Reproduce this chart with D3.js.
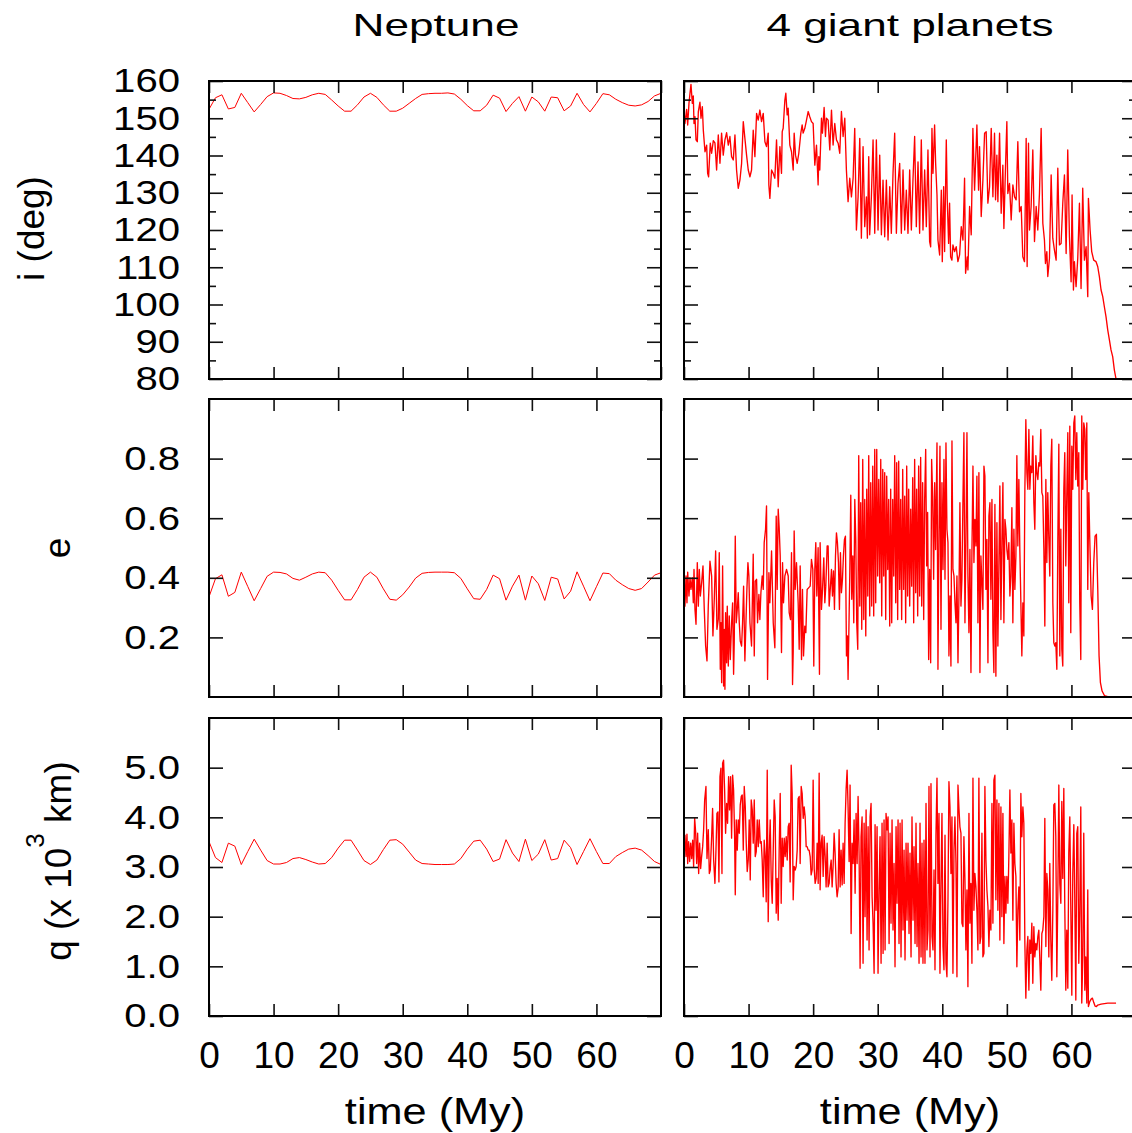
<!DOCTYPE html>
<html>
<head>
<meta charset="UTF-8">
<title>Neptune vs 4 giant planets</title>
<script src="https://cdn.jsdelivr.net/npm/d3@7"></script>
<style>
  body { margin: 0; background: #fff; }
  text { font-family: 'Liberation Sans', Arial, Helvetica, sans-serif; fill: #000; }
</style>
</head>
<body>
<div id="chart"></div>
<script>
// ---- data (time in My) ----
const neptuneTime = [0,1,2,3,4,5,6,7,8,9,10,11,12,13,14,15,16,17,18,19,20,21,22,23,24,25,26,27,28,29,30,
  31,32,33,34,35,36,37,38,39,40,41,42,43,44,45,46,47,48,49,50,51,52,53,54,55,56,57,58,59,60,61,62,63,64,65,66,67,68,69,70];
const neptuneIncl = [152.4,155.5,156.3,152.5,152.9,156.7,154.2,151.7,153.7,155.8,
  156.8,156.7,156.1,155.3,155.2,155.6,156.3,156.7,156.4,154.9,
  153.3,151.9,151.9,153.6,155.7,156.7,155.6,153.6,151.9,151.9,
  152.7,154.0,155.3,156.4,156.6,156.7,156.7,156.8,156.5,155.1,
  153.4,152.0,152.0,153.5,156.2,155.4,151.8,154.0,155.8,151.9,
  155.7,154.4,151.9,155.7,155.5,152.0,153.3,156.7,153.7,151.7,
  154.0,156.6,156.3,155.1,154.2,153.5,153.3,153.6,154.5,156.0,156.7];
const neptuneEcc = [0.336,0.397,0.410,0.338,0.351,0.419,0.371,0.323,0.364,0.405,
  0.419,0.418,0.413,0.398,0.392,0.402,0.413,0.419,0.417,0.392,
  0.358,0.326,0.326,0.361,0.402,0.419,0.402,0.363,0.328,0.325,
  0.343,0.369,0.399,0.415,0.418,0.419,0.419,0.419,0.417,0.398,
  0.363,0.330,0.328,0.361,0.409,0.397,0.325,0.372,0.409,0.325,
  0.406,0.380,0.324,0.402,0.396,0.329,0.355,0.420,0.372,0.323,
  0.370,0.416,0.414,0.392,0.377,0.364,0.358,0.364,0.386,0.409,0.417];
const neptunePeri = [3.51,3.19,3.09,3.48,3.42,3.05,3.31,3.56,3.34,3.13,
  3.06,3.06,3.09,3.17,3.19,3.15,3.10,3.06,3.07,3.19,
  3.38,3.54,3.54,3.34,3.13,3.05,3.14,3.35,3.54,3.55,
  3.46,3.30,3.14,3.07,3.06,3.05,3.05,3.05,3.06,3.17,
  3.36,3.52,3.54,3.36,3.11,3.16,3.55,3.28,3.11,3.56,
  3.13,3.26,3.55,3.14,3.17,3.54,3.39,3.05,3.31,3.57,
  3.31,3.07,3.07,3.21,3.29,3.36,3.38,3.34,3.23,3.11,3.05];

// 4 giant planets run: [time, value]
const giantIncl = [[0,152.2],[0.15,148.6],[0.41,152.4],[0.57,148.2],[0.77,154.0],[0.93,156.7],[1.08,159.1],[1.29,154.0],[1.44,156.0],[1.55,148.6],
  [1.70,150.4],[1.86,144.2],[2.06,143.7],[2.22,151.8],[2.47,154.3],[2.63,150.0],[2.84,153.1],[2.99,146.8],[3.25,141.0],[3.51,142.8],
  [3.66,135.2],[3.81,134.3],[4.07,143.3],[4.28,140.6],[4.54,144.0],[4.79,143.4],[5.05,136.1],[5.31,145.5],[5.57,137.9],[5.82,146.0],
  [6.08,140.1],[6.34,144.2],[6.60,146.1],[6.86,142.8],[7.11,145.1],[7.37,139.7],[7.63,138.8],[7.89,145.5],[8.14,136.1],[8.40,131.2],
  [8.66,133.4],[8.92,137.9],[9.18,149.1],[9.43,144.6],[9.69,140.1],[9.95,136.1],[10.21,134.3],[10.46,136.1],[10.72,146.8],[10.98,139.7],
  [11.24,151.3],[11.49,149.5],[11.75,152.2],[12.01,149.1],[12.27,151.3],[12.53,143.7],[12.78,142.4],[13.04,146.0],[13.14,132.1],[13.30,128.5],
  [13.56,136.1],[13.81,135.2],[14.07,133.9],[14.33,144.2],[14.59,131.6],[14.85,142.4],[15.10,135.2],[15.21,146.4],[15.36,147.3],[15.62,154.9],
  [15.77,156.7],[15.98,150.9],[16.13,152.7],[16.39,142.8],[16.65,141.0],[16.91,136.1],[17.06,146.0],[17.27,140.1],[17.53,137.9],[17.78,140.6],
  [18.09,146.0],[18.30,148.2],[18.45,146.0],[18.71,147.3],[18.97,149.5],[19.23,151.8],[19.48,150.4],[19.74,149.1],[20.00,148.6],[20.26,137.4],
  [20.52,142.8],[20.77,132.1],[20.88,139.7],[21.03,136.1],[21.29,150.0],[21.44,146.0],[21.70,152.9],[21.91,145.1],[22.06,150.0],[22.32,149.5],
  [22.58,141.5],[22.84,152.2],[23.09,142.8],[23.35,148.6],[23.61,144.2],[23.87,143.3],[24.12,140.6],[24.38,151.8],[24.64,145.1],[24.90,150.0],
  [25.15,136.1],[25.41,127.6],[25.67,133.9],[25.93,128.9],[26.19,133.9],[26.44,147.3],[26.70,120.0],[26.96,128.9],[27.22,144.6],[27.47,117.8],
  [27.73,142.4],[27.99,120.9],[28.25,128.9],[28.40,117.8],[28.61,139.7],[28.76,118.7],[29.02,128.9],[29.28,144.2],[29.54,119.1],[29.79,144.2],
  [30.05,120.0],[30.31,140.1],[30.57,118.7],[30.82,133.4],[31.08,118.2],[31.34,133.4],[31.60,117.3],[31.86,131.6],[32.11,119.1],[32.37,135.2],
  [32.63,146.0],[32.89,119.1],[33.14,132.5],[33.40,137.9],[33.66,119.1],[33.92,136.1],[34.18,120.0],[34.43,130.7],[34.69,119.1],[34.95,136.1],
  [35.21,120.0],[35.46,133.4],[35.72,145.1],[35.98,120.9],[36.24,138.3],[36.49,119.1],[36.75,144.2],[37.01,120.0],[37.27,136.1],[37.53,120.9],
  [37.78,141.5],[38.04,116.9],[38.20,115.5],[38.40,147.3],[38.56,135.2],[38.81,148.2],[38.97,137.9],[39.18,129.4],[39.33,117.3],[39.59,113.3],
  [39.85,130.7],[40.00,111.5],[40.21,131.6],[40.36,114.2],[40.62,144.2],[40.77,128.1],[40.98,116.4],[41.13,127.2],[41.29,112.8],[41.49,111.9],
  [41.65,116.0],[41.91,114.2],[42.16,115.5],[42.42,111.5],[42.68,113.3],[42.94,120.9],[43.20,117.3],[43.45,133.9],[43.61,108.4],[43.87,112.8],
  [43.97,109.3],[44.23,126.3],[44.48,118.7],[44.74,147.3],[45.00,130.7],[45.15,137.9],[45.36,148.2],[45.62,130.7],[45.77,142.4],[46.03,123.6],
  [46.29,133.4],[46.55,146.0],[46.80,146.4],[47.06,127.2],[47.32,131.6],[47.58,147.3],[47.84,128.9],[48.09,146.0],[48.25,128.1],[48.45,140.1],
  [48.61,127.6],[48.87,146.0],[49.12,124.5],[49.38,137.4],[49.54,120.4],[49.79,137.0],[50.00,149.1],[50.15,129.8],[50.41,132.5],[50.67,122.7],
  [50.93,132.1],[51.19,128.9],[51.44,128.1],[51.70,143.7],[51.96,124.9],[52.22,126.3],[52.47,112.8],[52.73,111.5],[52.99,144.6],[53.14,110.2],
  [53.35,143.3],[53.51,120.0],[53.76,126.3],[54.02,141.5],[54.28,116.9],[54.54,126.3],[54.79,120.0],[55.05,129.8],[55.31,147.3],[55.57,121.8],
  [55.82,117.3],[55.98,111.0],[56.19,114.2],[56.34,107.5],[56.60,112.4],[56.86,134.8],[57.11,117.8],[57.37,114.6],[57.63,111.9],[57.89,136.6],
  [58.14,116.0],[58.40,116.4],[58.66,127.2],[58.92,134.8],[59.18,113.7],[59.43,141.5],[59.69,118.2],[59.95,106.1],[60.10,129.4],[60.31,103.9],
  [60.46,111.5],[60.72,104.8],[60.98,112.4],[61.24,127.2],[61.49,104.3],[61.75,131.2],[62.01,111.9],[62.27,115.5],[62.53,102.1],[62.63,128.5],
  [62.89,120.0],[63.14,114.2],[63.45,111.9],[63.81,111.5],[64.07,110.2],[64.33,107.5],[64.59,103.9],[64.85,102.1],[65.10,99.4],[65.36,96.7],
  [65.62,93.2],[65.88,90.5],[66.13,87.8],[66.39,86.0],[66.65,82.4],[66.91,80.0]];

const giantEcc = [[0,0.395],[0.15,0.305],[0.31,0.406],[0.46,0.316],[0.57,0.419],[0.77,0.339],[0.93,0.400],[1.08,0.361],[1.29,0.400],[1.44,0.316],
  [1.55,0.428],[1.70,0.294],[1.86,0.244],[2.06,0.451],[2.22,0.305],[2.37,0.428],[2.53,0.339],[2.73,0.383],[2.94,0.440],[3.14,0.294],
  [3.35,0.171],[3.56,0.121],[3.76,0.305],[4.02,0.456],[4.28,0.406],[4.48,0.205],[4.69,0.328],[4.90,0.490],[5.10,0.227],[5.31,0.260],
  [5.46,0.484],[5.62,0.093],[5.72,0.249],[5.83,0.048],[5.98,0.440],[6.13,0.037],[6.24,0.227],[6.34,0.026],[6.44,0.283],[6.60,0.115],
  [6.70,0.305],[6.86,0.104],[7.01,0.272],[7.17,0.126],[7.37,0.249],[7.53,0.316],[7.68,0.076],[7.78,0.182],[7.94,0.540],[8.09,0.249],
  [8.25,0.294],[8.40,0.350],[8.56,0.249],[8.71,0.188],[8.92,0.171],[9.07,0.249],[9.23,0.372],[9.43,0.121],[9.59,0.249],[9.74,0.361],
  [9.90,0.451],[10.05,0.406],[10.21,0.249],[10.46,0.171],[10.72,0.479],[10.88,0.138],[11.03,0.389],[11.24,0.395],[11.39,0.249],[11.60,0.344],
  [11.75,0.260],[11.91,0.350],[12.11,0.406],[12.27,0.361],[12.42,0.518],[12.63,0.563],[12.78,0.641],[12.94,0.059],[13.15,0.417],[13.30,0.316],
  [13.56,0.490],[13.82,0.249],[14.07,0.165],[14.28,0.607],[14.43,0.361],[14.59,0.630],[14.74,0.568],[14.90,0.473],[15.10,0.149],[15.26,0.451],
  [15.41,0.316],[15.62,0.406],[15.88,0.428],[16.14,0.406],[16.29,0.283],[16.50,0.260],[16.65,0.484],[16.81,0.042],[16.91,0.149],[17.06,0.557],
  [17.22,0.361],[17.42,0.451],[17.68,0.316],[17.84,0.160],[17.99,0.440],[18.20,0.126],[18.35,0.361],[18.51,0.138],[18.71,0.238],[18.87,0.216],
  [19.07,0.361],[19.33,0.367],[19.54,0.372],[19.74,0.462],[19.95,0.428],[20.10,0.104],[20.26,0.428],[20.41,0.518],[20.57,0.339],[20.77,0.501],
  [20.98,0.076],[21.08,0.518],[21.29,0.294],[21.45,0.361],[21.65,0.467],[21.81,0.316],[21.96,0.372],[22.17,0.507],[22.32,0.507],[22.48,0.305],
  [22.68,0.372],[22.84,0.428],[22.99,0.339],[23.15,0.423],[23.30,0.294],[23.46,0.473],[23.61,0.551],[23.76,0.518],[23.92,0.451],[24.07,0.294],
  [24.23,0.484],[24.38,0.350],[24.54,0.395],[24.69,0.473],[24.85,0.529],[25.00,0.540],[25.16,0.138],[25.31,0.205],[25.41,0.059],[25.52,0.205],
  [25.67,0.406],[25.83,0.677],[25.98,0.328],[26.14,0.473],[26.29,0.249],[26.45,0.663],[26.60,0.529],[26.75,0.249],[26.91,0.160],[27.06,0.810],
  [27.22,0.305],[27.37,0.652],[27.53,0.227],[27.68,0.797],[27.84,0.260],[27.99,0.663],[28.15,0.205],[28.30,0.697],[28.46,0.339],[28.61,0.810],
  [28.76,0.272],[28.92,0.719],[29.07,0.305],[29.23,0.775],[29.38,0.272],[29.54,0.831],[29.69,0.316],[29.85,0.831],[30.00,0.406],[30.16,0.730],
  [30.31,0.383],[30.47,0.797],[30.62,0.272],[30.78,0.764],[30.93,0.406],[31.08,0.753],[31.24,0.260],[31.39,0.741],[31.55,0.428],[31.70,0.663],
  [31.86,0.238],[32.01,0.697],[32.17,0.249],[32.32,0.663],[32.48,0.406],[32.63,0.810],[32.79,0.316],[32.94,0.786],[33.09,0.260],[33.25,0.791],
  [33.40,0.361],[33.56,0.663],[33.71,0.260],[33.87,0.764],[34.02,0.361],[34.18,0.674],[34.33,0.249],[34.49,0.775],[34.64,0.339],[34.80,0.697],
  [34.95,0.305],[35.11,0.630],[35.26,0.372],[35.42,0.736],[35.57,0.249],[35.72,0.797],[35.88,0.350],[36.03,0.697],[36.19,0.272],[36.34,0.775],
  [36.50,0.339],[36.65,0.804],[36.81,0.305],[36.96,0.719],[37.12,0.260],[37.27,0.663],[37.43,0.831],[37.58,0.440],[37.73,0.619],[37.89,0.126],
  [38.04,0.428],[38.20,0.115],[38.35,0.797],[38.51,0.674],[38.66,0.395],[38.82,0.719],[38.97,0.495],[39.18,0.853],[39.33,0.093],[39.49,0.551],
  [39.64,0.842],[39.80,0.227],[39.95,0.719],[40.11,0.428],[40.26,0.797],[40.42,0.395],[40.57,0.853],[40.72,0.563],[40.88,0.518],[41.03,0.138],
  [41.19,0.339],[41.34,0.104],[41.50,0.859],[41.65,0.428],[41.81,0.406],[41.96,0.316],[42.12,0.249],[42.27,0.406],[42.43,0.115],[42.58,0.339],
  [42.73,0.652],[42.89,0.305],[43.04,0.395],[43.20,0.663],[43.35,0.887],[43.51,0.249],[43.66,0.518],[43.82,0.887],[43.97,0.406],[44.13,0.216],
  [44.28,0.495],[44.44,0.082],[44.59,0.484],[44.75,0.775],[44.90,0.451],[45.05,0.596],[45.21,0.507],[45.36,0.741],[45.52,0.249],[45.67,0.753],
  [45.83,0.082],[45.98,0.473],[46.14,0.383],[46.29,0.294],[46.45,0.775],[46.60,0.741],[46.76,0.361],[46.91,0.529],[47.07,0.115],[47.22,0.607],
  [47.38,0.652],[47.53,0.328],[47.69,0.663],[47.84,0.216],[47.99,0.082],[48.15,0.646],[48.30,0.070],[48.46,0.585],[48.61,0.171],[48.77,0.451],
  [48.92,0.708],[49.08,0.260],[49.23,0.518],[49.39,0.719],[49.54,0.249],[49.70,0.596],[49.85,0.563],[50.00,0.495],[50.16,0.462],[50.31,0.518],
  [50.47,0.339],[50.62,0.406],[50.78,0.635],[50.93,0.249],[51.09,0.563],[51.24,0.361],[51.40,0.473],[51.55,0.810],[51.70,0.507],[51.86,0.730],
  [52.01,0.495],[52.17,0.316],[52.32,0.138],[52.48,0.316],[52.63,0.205],[52.79,0.697],[52.94,0.931],[53.10,0.753],[53.25,0.697],[53.41,0.898],
  [53.56,0.697],[53.71,0.775],[53.87,0.753],[54.02,0.876],[54.18,0.652],[54.33,0.563],[54.49,0.810],[54.64,0.753],[54.80,0.730],[54.95,0.786],
  [55.11,0.775],[55.26,0.898],[55.42,0.686],[55.57,0.674],[55.73,0.495],[55.88,0.238],[56.04,0.730],[56.19,0.451],[56.34,0.686],[56.50,0.529],
  [56.65,0.406],[56.81,0.775],[56.96,0.865],[57.12,0.316],[57.27,0.182],[57.43,0.171],[57.58,0.182],[57.74,0.093],[57.89,0.518],[58.05,0.848],
  [58.20,0.138],[58.36,0.563],[58.51,0.160],[58.66,0.104],[58.82,0.697],[58.97,0.820],[59.13,0.440],[59.28,0.674],[59.44,0.887],[59.59,0.316],
  [59.75,0.909],[59.90,0.216],[60.06,0.842],[60.21,0.697],[60.37,0.920],[60.52,0.943],[60.68,0.730],[60.83,0.887],[60.98,0.708],[61.14,0.820],
  [61.29,0.316],[61.45,0.126],[61.60,0.943],[61.76,0.697],[61.91,0.920],[62.07,0.898],[62.22,0.730],[62.38,0.920],[62.53,0.361],[62.69,0.686],
  [62.84,0.529],[63.05,0.339],[63.25,0.294],[63.46,0.451],[63.66,0.540],[63.87,0.546],[64.08,0.361],[64.28,0.138],[64.49,0.048],[64.75,0.020],
  [65.11,0.005],[65.62,0.001],[66.91,0.001]];

const giantPeri = [[0,3.14],[0.15,3.64],[0.31,3.21],[0.46,3.66],[0.57,3.07],[0.72,3.51],[0.88,3.11],[1.03,3.48],[1.19,3.17],[1.34,3.54],
  [1.49,3.01],[1.65,3.98],[1.80,3.71],[1.96,3.07],[2.11,3.68],[2.27,2.87],[2.42,3.48],[2.58,2.97],[2.73,3.21],[2.89,3.41],
  [3.04,3.75],[3.20,4.35],[3.40,4.62],[3.56,3.17],[3.76,3.75],[3.92,2.87],[4.07,2.94],[4.28,3.61],[4.43,4.18],[4.59,3.14],
  [4.79,2.67],[4.95,3.34],[5.10,4.08],[5.26,4.11],[5.41,2.70],[5.57,4.82],[5.72,4.99],[5.88,2.87],[5.98,5.09],[6.13,5.15],
  [6.29,4.55],[6.44,3.68],[6.60,4.28],[6.75,3.88],[6.91,4.82],[7.06,4.15],[7.22,4.82],[7.37,3.58],[7.53,4.85],[7.68,4.55],
  [7.84,3.61],[7.94,2.44],[8.09,3.95],[8.25,3.34],[8.40,3.95],[8.56,3.68],[8.71,4.25],[8.87,4.42],[9.02,4.45],[9.18,3.34],
  [9.33,4.62],[9.49,4.21],[9.64,3.48],[9.79,2.91],[9.95,3.14],[10.10,3.95],[10.26,2.74],[10.41,4.35],[10.57,4.15],[10.72,3.48],
  [10.88,4.35],[11.03,3.21],[11.19,3.31],[11.34,3.95],[11.50,3.41],[11.65,3.95],[11.81,3.48],[11.96,3.51],[12.11,3.14],[12.27,2.40],
  [12.42,3.54],[12.58,3.21],[12.73,2.30],[12.89,4.95],[13.04,1.90],[13.20,3.34],[13.35,3.95],[13.51,2.74],[13.66,2.27],[13.82,3.34],
  [13.97,4.35],[14.12,4.01],[14.28,2.07],[14.43,2.77],[14.59,1.93],[14.74,3.34],[14.90,4.48],[15.05,2.27],[15.21,3.58],[15.36,3.01],
  [15.52,3.58],[15.67,3.21],[15.83,3.61],[15.98,3.14],[16.14,3.81],[16.29,3.88],[16.44,2.70],[16.60,5.05],[16.75,4.48],[16.91,2.34],
  [17.06,3.01],[17.22,2.94],[17.37,3.01],[17.53,3.34],[17.68,4.38],[17.84,4.42],[17.99,3.07],[18.15,4.62],[18.30,4.48],[18.46,3.98],
  [18.61,4.21],[18.76,4.01],[18.92,3.41],[19.07,3.41],[19.23,3.34],[19.38,3.34],[19.54,3.21],[19.69,2.84],[19.85,2.94],[20.00,4.75],
  [20.16,2.97],[20.31,2.67],[20.47,2.77],[20.62,3.48],[20.78,2.67],[20.93,4.89],[21.08,2.54],[21.24,3.48],[21.39,3.64],[21.55,2.81],
  [21.70,3.61],[21.86,3.21],[22.01,2.60],[22.17,3.48],[22.32,2.60],[22.48,2.67],[22.63,2.97],[22.79,3.14],[22.94,2.60],[23.09,3.01],
  [23.25,3.68],[23.40,3.28],[23.56,2.67],[23.71,2.40],[23.87,2.57],[24.02,3.75],[24.18,2.60],[24.33,3.34],[24.49,2.64],[24.64,3.48],
  [24.80,2.67],[24.95,3.88],[25.11,4.58],[25.26,4.95],[25.41,4.21],[25.57,3.11],[25.72,4.65],[25.88,1.66],[26.03,3.48],[26.19,3.07],
  [26.34,3.95],[26.50,2.47],[26.65,4.08],[26.81,3.07],[26.96,4.42],[27.12,3.21],[27.27,0.96],[27.42,3.61],[27.58,4.01],[27.73,1.06],
  [27.89,3.88],[28.04,2.00],[28.20,4.15],[28.35,1.53],[28.51,3.81],[28.66,1.33],[28.82,4.01],[28.97,4.28],[29.13,2.40],[29.28,1.87],
  [29.44,0.86],[29.59,3.85],[29.74,2.13],[29.90,3.81],[30.05,0.86],[30.21,2.54],[30.36,3.61],[30.52,1.06],[30.67,3.88],[30.83,1.26],
  [30.98,3.95],[31.14,1.33],[31.29,4.08],[31.45,3.75],[31.60,4.01],[31.76,1.46],[31.91,3.68],[32.06,1.87],[32.22,3.95],[32.37,1.73],
  [32.53,3.07],[32.68,0.99],[32.84,3.81],[32.99,2.27],[33.15,3.95],[33.30,1.46],[33.46,3.88],[33.61,1.19],[33.77,3.95],[33.92,1.73],
  [34.08,3.34],[34.23,1.13],[34.39,3.48],[34.54,1.93],[34.69,3.48],[34.85,1.66],[35.00,3.28],[35.16,1.19],[35.31,4.01],[35.47,1.93],
  [35.62,3.41],[35.78,1.46],[35.93,3.88],[36.09,1.40],[36.24,3.07],[36.40,1.06],[36.55,3.88],[36.71,1.19],[36.86,3.48],[37.01,1.06],
  [37.17,3.54],[37.32,1.06],[37.48,4.28],[37.63,1.33],[37.79,1.73],[37.94,4.62],[38.10,1.19],[38.25,4.68],[38.41,1.60],[38.56,1.33],
  [38.72,2.94],[38.87,0.93],[39.02,3.64],[39.18,4.79],[39.33,2.67],[39.49,4.08],[39.64,0.86],[39.80,2.67],[39.95,4.08],[40.11,1.40],
  [40.26,0.93],[40.42,3.64],[40.57,1.06],[40.72,0.79],[40.88,2.34],[41.03,4.72],[41.19,4.21],[41.34,2.87],[41.50,4.01],[41.65,0.86],
  [41.81,3.34],[41.96,4.01],[42.12,3.07],[42.27,0.79],[42.43,4.65],[42.58,4.18],[42.73,3.81],[42.89,3.68],[43.04,1.87],[43.20,1.80],
  [43.35,3.61],[43.51,2.74],[43.66,1.33],[43.82,2.54],[43.97,0.59],[44.13,4.08],[44.28,1.87],[44.44,2.67],[44.59,1.06],[44.75,4.79],
  [44.90,2.13],[45.05,2.87],[45.21,2.60],[45.36,2.13],[45.52,1.33],[45.67,4.79],[45.83,1.46],[45.98,1.60],[46.14,3.68],[46.29,1.19],
  [46.45,1.26],[46.60,4.62],[46.76,3.14],[46.91,2.54],[47.07,2.20],[47.22,1.40],[47.38,2.13],[47.53,1.73],[47.69,4.28],[47.84,1.87],
  [47.99,4.75],[48.15,4.85],[48.30,2.34],[48.46,4.35],[48.61,2.13],[48.77,4.28],[48.92,1.53],[49.08,4.21],[49.23,2.00],[49.39,4.08],
  [49.54,1.46],[49.70,2.81],[49.85,2.07],[50.00,2.81],[50.16,2.27],[50.31,3.21],[50.47,4.55],[50.62,3.28],[50.78,3.95],[50.93,1.93],
  [51.09,3.88],[51.24,3.07],[51.40,2.81],[51.55,0.99],[51.70,2.13],[51.86,2.60],[52.01,1.53],[52.17,4.48],[52.32,3.61],[52.48,4.21],
  [52.63,3.88],[52.79,1.46],[52.94,0.36],[53.10,1.33],[53.25,1.60],[53.41,0.52],[53.56,1.53],[53.71,1.26],[53.87,1.87],[54.02,0.66],
  [54.18,1.80],[54.33,1.19],[54.49,1.46],[54.64,1.33],[54.80,1.60],[54.95,1.73],[55.11,1.13],[55.26,0.52],[55.42,1.66],[55.57,1.73],
  [55.73,2.00],[55.88,3.98],[56.04,1.40],[56.19,2.87],[56.34,2.54],[56.50,1.19],[56.65,3.07],[56.81,1.53],[56.96,0.72],[57.12,2.13],
  [57.27,4.25],[57.43,4.28],[57.58,3.61],[57.74,0.79],[57.89,2.40],[58.05,4.65],[58.20,2.67],[58.36,2.27],[58.51,4.32],[58.66,2.77],
  [58.82,4.58],[58.97,2.20],[59.13,0.52],[59.28,1.73],[59.44,0.56],[59.59,3.28],[59.75,4.01],[59.90,2.20],[60.06,0.42],[60.21,2.87],
  [60.37,3.85],[60.52,2.34],[60.68,0.32],[60.83,3.68],[60.98,3.81],[61.14,1.06],[61.29,2.07],[61.45,4.21],[61.60,0.26],[61.76,1.19],
  [61.91,3.68],[62.07,0.52],[62.22,1.19],[62.38,0.26],[62.53,2.54],[62.63,0.19],[62.84,0.29],[63.05,0.34],[63.25,0.36],[63.46,0.27],
  [63.66,0.20],[63.87,0.19],[64.08,0.22],[64.59,0.24],[65.62,0.26],[66.91,0.26]];

const columnTitles = ['Neptune', '4 giant planets'];
const timeTicks = [0, 10, 20, 30, 40, 50, 60, 70];
const timeLabels = [0, 10, 20, 30, 40, 50, 60];
const inclTicks = [80, 90, 100, 110, 120, 130, 140, 150, 160];
const inclMinor = [85, 95, 105, 115, 125, 135, 145, 155];
const eccTicks = [0.2, 0.4, 0.6, 0.8];
const periTicks = [0, 1, 2, 3, 4, 5];

// ---- layout ----
const width = 1132;
const height = 1133;
const colX = [209, 684];
const rowY = [81, 399, 718];
const panelW = 452;
const panelH = 298;
const lineWidth = [1.0, 1.35];   // neptune run is drawn a bit thinner

const rows = [
  { label: 'i (deg)', domain: [80, 160], ticks: inclTicks, minor: inclMinor, fmt: d3.format('d'),
    series: [neptuneTime.map((t, k) => [t, neptuneIncl[k]]), giantIncl] },
  { label: 'e', domain: [0, 1], ticks: eccTicks, minor: [], fmt: d3.format('.1f'),
    series: [neptuneTime.map((t, k) => [t, neptuneEcc[k]]), giantEcc] },
  { label: 'q', domain: [0, 6], ticks: periTicks, minor: [], fmt: d3.format('.1f'),
    series: [neptuneTime.map((t, k) => [t, neptunePeri[k]]), giantPeri] }
];

const svg = d3.select('#chart')
  .append('svg')
  .attr('width', width)
  .attr('height', height)
  .style('display', 'block')
  .style('background', '#fff');

const x = d3.scaleLinear().domain([0, 70]).range([0, panelW]);

const yScaleX = 1.18;   // y tick labels are a bit wide in the original

rows.forEach((row, r) => {
  const y = d3.scaleLinear().domain(row.domain).range([panelH, 0]);

  colX.forEach((cx, c) => {
    const g = svg.append('g').attr('transform', `translate(${cx},${rowY[r]})`);
    const clipId = `clip-${r}-${c}`;
    g.append('clipPath').attr('id', clipId)
      .append('rect').attr('width', panelW).attr('height', panelH);

    const line = d3.line().x(d => x(d[0])).y(d => y(d[1]));
    g.append('path')
      .datum(row.series[c])
      .attr('clip-path', `url(#${clipId})`)
      .attr('fill', 'none')
      .attr('stroke', '#ff0000')
      .attr('stroke-width', lineWidth[c])
      .attr('stroke-linejoin', 'round')
      .attr('d', line);

    // left axis (labels only in first column)
    const left = g.append('g')
      .call(d3.axisLeft(y).tickValues(row.ticks).tickSize(-14).tickPadding(29)
        .tickFormat(c === 0 ? row.fmt : ''));
    left.attr('font-size', 34);
    left.selectAll('text')
      .attr('x', -29 / yScaleX)
      .attr('transform', `scale(${yScaleX},1)`);

    g.append('g').call(d3.axisLeft(y).tickValues(row.minor).tickSize(-7).tickFormat(''));
    g.append('g').attr('transform', `translate(${panelW},0)`)
      .call(d3.axisRight(y).tickValues(row.ticks).tickSize(-14).tickFormat(''));
    g.append('g').attr('transform', `translate(${panelW},0)`)
      .call(d3.axisRight(y).tickValues(row.minor).tickSize(-7).tickFormat(''));

    g.append('g').call(d3.axisTop(x).tickValues(timeTicks).tickSize(-12).tickFormat(''));
    const bottom = g.append('g').attr('transform', `translate(0,${panelH})`)
      .call(d3.axisBottom(x).tickValues(r === 2 ? timeLabels : timeTicks).tickSize(-12).tickPadding(26)
        .tickFormat(r === 2 ? d3.format('d') : ''));
    bottom.attr('font-size', 37);

    g.selectAll('.domain').remove();
    g.selectAll('.tick line').attr('stroke', '#111').attr('stroke-width', 1.6);

    g.append('rect')
      .attr('width', panelW)
      .attr('height', panelH)
      .attr('fill', 'none')
      .attr('stroke', '#000')
      .attr('stroke-width', 2);
  });
});

// column titles
const titleX = [436, 910];
columnTitles.forEach((t, c) => {
  svg.append('text')
    .attr('transform', `translate(${titleX[c]},36) scale(1.38,1)`)
    .attr('text-anchor', 'middle')
    .attr('font-size', 32)
    .text(t);
  svg.append('text')
    .attr('transform', `translate(${colX[c] + 226},1124) scale(1.17,1)`)
    .attr('text-anchor', 'middle')
    .attr('font-size', 37)
    .text('time (My)');
});

// y axis titles
svg.append('text')
  .attr('transform', 'translate(43.5,228.5) rotate(-90)')
  .attr('text-anchor', 'middle')
  .attr('font-size', 37)
  .text('i (deg)');

svg.append('text')
  .attr('transform', 'translate(70,548) rotate(-90)')
  .attr('text-anchor', 'middle')
  .attr('font-size', 37)
  .text('e');

const qLabel = svg.append('text')
  .attr('transform', 'translate(71,861) rotate(-90)')
  .attr('text-anchor', 'middle')
  .attr('font-size', 37);
qLabel.append('tspan').text('q (x 10');
qLabel.append('tspan').attr('font-size', 26).attr('dy', -27).text('3');
qLabel.append('tspan').attr('dy', 27).text(' km)');
</script>
</body>
</html>
